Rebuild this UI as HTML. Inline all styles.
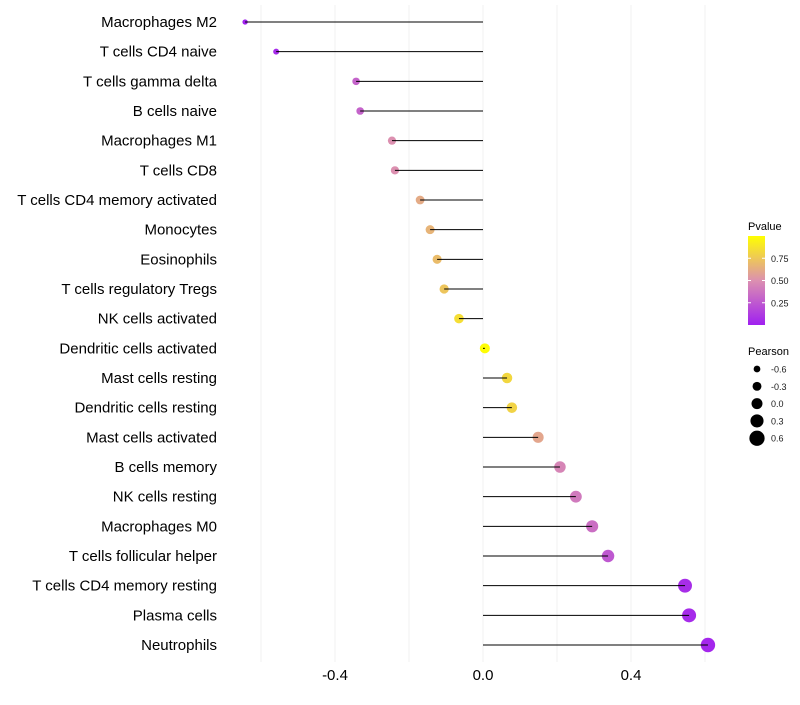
<!DOCTYPE html>
<html><head><meta charset="utf-8"><style>
body{margin:0;background:#fff;font-family:"Liberation Sans",sans-serif}
</style></head><body>
<svg id="c" width="800" height="700" xmlns="http://www.w3.org/2000/svg">
<defs><linearGradient id="pg" x1="0" y1="1" x2="0" y2="0">
<stop offset="0" stop-color="#a020f0"/><stop offset="0.5" stop-color="#dc90b0"/><stop offset="1" stop-color="#ffff00"/>
</linearGradient></defs>
<g id="grid"></g><g id="marks"></g><g id="labels"></g><g id="legend"></g>
</svg>
<script>
const categories=["Macrophages M2","T cells CD4 naive","T cells gamma delta","B cells naive","Macrophages M1","T cells CD8","T cells CD4 memory activated","Monocytes","Eosinophils","T cells regulatory  Tregs ","NK cells activated","Dendritic cells activated","Mast cells resting","Dendritic cells resting","Mast cells activated","B cells memory","NK cells resting","Macrophages M0","T cells follicular helper","T cells CD4 memory resting","Plasma cells","Neutrophils"];
const pearson=[-0.643,-0.559,-0.343,-0.332,-0.246,-0.238,-0.170,-0.143,-0.124,-0.105,-0.065,0.005,0.065,0.078,0.149,0.208,0.251,0.295,0.338,0.546,0.557,0.608];
const pvalues=[0.01,0.05,0.3,0.3,0.5,0.5,0.62,0.66,0.7,0.74,0.85,0.99,0.82,0.8,0.6,0.45,0.4,0.35,0.25,0.06,0.05,0.03];
const xTicks=[-0.4,0.0,0.4];
const xTickLabels=["-0.4","0.0","0.4"];
const gridVals=[-0.6,-0.4,-0.2,0,0.2,0.4,0.6];
const sizeVals=[-0.6,-0.3,0.0,0.3,0.6];
const sizeLabels=["-0.6","-0.3","0.0","0.3","0.6"];
const pTicks=[0.25,0.5,0.75];
const pTickLabels=["0.25","0.50","0.75"];
const NS="http://www.w3.org/2000/svg";
const x=v=>483+v*370;
const y=i=>22+i*(623/21);
const r=v=>Math.max(1.2,5+v*3.6);
function lerp(a,b,t){return a.map((c,k)=>Math.round(c+(b[k]-c)*t));}
function col(p){const s=[[160,32,240],[220,144,176],[255,255,0]];const c=p<0.5?lerp(s[0],s[1],p/0.5):lerp(s[1],s[2],(p-0.5)/0.5);return `rgb(${c})`;}
function mk(tag,at,parent,txt){const e=document.createElementNS(NS,tag);for(const k in at)e.setAttribute(k,at[k]);if(txt!==undefined)e.textContent=txt;document.getElementById(parent).appendChild(e);return e;}
gridVals.forEach(v=>{const l=mk('line',{x1:x(v),x2:x(v),y1:5,y2:662,stroke:'#f2f2f2','stroke-width':1},'grid');

});
categories.forEach((c,i)=>{
const d=mk('circle',{cx:x(pearson[i]),cy:y(i),r:r(pearson[i]),fill:col(pvalues[i])},'marks');


const l=mk('line',{x1:x(0),x2:x(pearson[i]),y1:y(i),y2:y(i),stroke:'#000','stroke-width':1},'marks');


const t=mk('text',{x:217,y:y(i)+5,'text-anchor':'end','font-size':15,fill:'#000'},'labels',c);


});
xTicks.forEach((v,i)=>{const t=mk('text',{x:x(v),y:680,'text-anchor':'middle','font-size':15,fill:'#000'},'labels',xTickLabels[i]);

});
let t=mk('text',{x:748,y:230,'font-size':11,fill:'#000'},'legend','Pvalue');


const py=p=>325-p*89;
let b=mk('rect',{x:748,y:py(1),width:17,height:89,fill:'url(#pg)'},'legend');


pTicks.forEach((p,i)=>{mk('line',{x1:748,x2:751,y1:py(p),y2:py(p),stroke:'#fff'},'legend');mk('line',{x1:762,x2:765,y1:py(p),y2:py(p),stroke:'#fff'},'legend');
const e=mk('text',{x:771,y:py(p)+3.5,'font-size':9,fill:'#1a1a1a'},'legend',pTickLabels[i]);

});
t=mk('text',{x:748,y:355,'font-size':11,fill:'#000'},'legend','Pearson');


sizeVals.forEach((v,i)=>{const cy=369+i*17.3;
const c=mk('circle',{cx:757,cy:cy,r:r(v)*0.98+0.6,fill:'#000'},'legend');


const e=mk('text',{x:771,y:cy+3.5,'font-size':9,fill:'#1a1a1a'},'legend',sizeLabels[i]);

});
</script>
</body></html>
